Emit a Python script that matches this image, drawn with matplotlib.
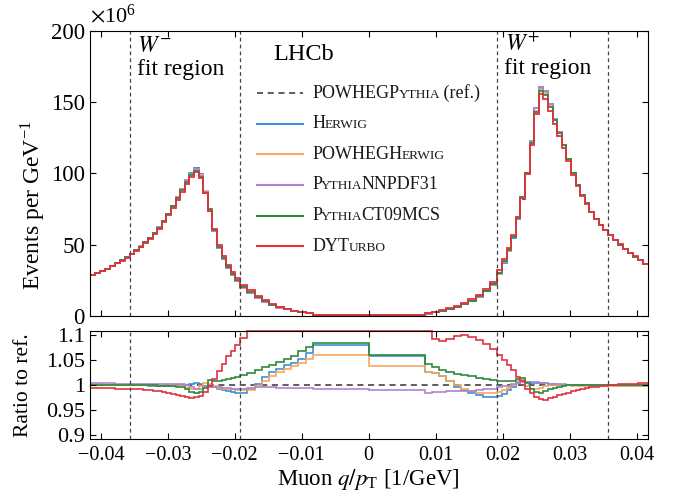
import numpy as np
import matplotlib
matplotlib.use('Agg')
import matplotlib.pyplot as plt
from matplotlib.ticker import FuncFormatter
from matplotlib.offsetbox import TextArea, DrawingArea, HPacker, VPacker, AnchoredOffsetbox
from matplotlib.lines import Line2D

plt.rcParams['font.family'] = 'serif'
plt.rcParams['font.serif'] = ['Liberation Serif', 'DejaVu Serif']
plt.rcParams['mathtext.fontset'] = 'stix'

# q/pT binning: pT > 120 GeV, 52-120 GeV, 28-52 GeV (fit region), 24-28 GeV
pos_edges = np.concatenate([[0.0],
                            np.linspace(1/120, 1/52, 11),
                            np.linspace(1/52, 1/28, 25)[1:],
                            np.linspace(1/28, 1/24, 9)[1:]])
edges = np.concatenate([-pos_edges[::-1], pos_edges[1:]])

fit_bounds = [-1/28, -1/52, 1/52, 1/28]

# POWHEG+Pythia reference, events per GeV^-1 (x 10^6)
ref_events = [
    28.5, 30, 31.5, 33, 35, 37, 39, 41,
    43.5, 46, 48.5, 51.5, 54.5, 58, 62, 66.5, 71.5, 77, 83, 89,
    95, 100, 103.5, 99, 87, 74, 60, 48, 40, 34, 29, 24.5,
    20, 16, 12.5, 9.8, 7.5, 5.8, 4.4, 3.3, 2.4, 1.7,
    0.4, 0.4,
    1.5, 2.5, 3.5, 4.8, 6.2, 8, 10.5, 13.5, 17.5, 22,
    30, 38, 46, 55, 68, 82, 100, 122, 145, 160, 157, 148,
    138, 129, 120, 110, 100, 92, 85, 79, 73, 68, 64, 60,
    57, 53, 50, 47, 44, 41.5, 39, 36.5,
]

# ratios to the reference
ratio_herwig = [
    1.000, 1.000, 1.001, 1.000, 1.000, 1.001, 1.000, 1.000,
    1.000, 1.000, 1.000, 1.000, 0.999, 0.999, 0.999, 0.999, 0.999, 0.999, 0.999, 1.000,
    1.001, 1.003, 1.004, 1.003, 0.999, 1.000, 0.997, 0.992, 0.990, 0.989, 0.986, 0.985,
    0.985, 0.993, 1.002, 1.016, 1.026, 1.033, 1.040, 1.045, 1.053, 1.064,
    1.080, 1.059,
    1.027, 1.024, 1.018, 1.008, 0.997, 0.990, 0.984, 0.980, 0.977, 0.977,
    0.978, 0.982, 0.990, 0.996, 1.004, 1.010, 1.006, 1.005, 1.005, 1.005, 1.004, 1.003,
    1.002, 1.001, 1.001, 1.000, 1.000, 1.000, 1.000, 1.000, 1.000, 1.000, 1.000, 1.000,
    1.000, 0.999, 0.999, 0.999, 0.999, 0.998, 0.998, 0.998,
]
ratio_powheg_herwig = [
    1.002, 1.002, 1.002, 1.001, 1.001, 1.001, 1.001, 1.001,
    1.001, 1.001, 1.000, 1.000, 1.000, 1.000, 1.000, 1.000, 1.000, 1.000, 0.999, 0.998,
    0.995, 0.993, 0.993, 0.998, 1.005, 1.002, 0.998, 0.994, 0.993, 0.993, 0.992, 0.990,
    0.990, 0.991, 0.998, 1.008, 1.018, 1.026, 1.033, 1.039, 1.045, 1.053,
    1.060, 1.038,
    1.027, 1.024, 1.018, 1.008, 1.000, 0.993, 0.988, 0.985, 0.985, 0.985,
    0.987, 0.990, 0.995, 1.000, 1.008, 1.010, 0.998, 0.993, 0.993, 0.995, 0.998, 1.000,
    1.000, 1.000, 1.000, 1.000, 0.999, 0.999, 0.999, 0.999, 0.999, 0.999, 0.999, 0.999,
    0.998, 0.998, 0.998, 0.998, 0.998, 0.998, 0.998, 0.998,
]
ratio_nnpdf31 = [
    1.004, 1.004, 1.004, 1.004, 1.004, 1.003, 1.003, 1.003,
    1.003, 1.003, 1.003, 1.003, 1.003, 1.003, 1.003, 1.003, 1.003, 1.003, 1.003, 1.002,
    1.001, 0.997, 0.993, 0.993, 0.997, 0.997, 0.997, 0.996, 0.995, 0.994, 0.993, 0.993,
    0.993, 0.994, 0.997, 0.997, 0.997, 0.994, 0.994, 0.994, 0.994, 0.994,
    0.992, 0.991,
    0.985, 0.987, 0.987, 0.988, 0.988, 0.988, 0.988, 0.990, 0.993, 0.993,
    0.996, 0.998, 0.999, 1.002, 1.004, 1.006, 1.006, 1.006, 1.006, 1.005, 1.004, 1.003,
    1.003, 1.002, 1.002, 1.001, 1.001, 1.001, 1.001, 1.001, 1.001, 1.001, 1.001, 1.000,
    1.000, 1.000, 1.000, 1.000, 1.000, 1.000, 1.000, 1.000,
]
ratio_ct09mcs = [
    1.000, 1.000, 1.000, 1.000, 1.000, 1.000, 1.000, 1.000,
    1.000, 1.000, 1.000, 1.000, 1.000, 1.000, 0.999, 0.999, 0.999, 0.998, 0.997, 0.996,
    0.992, 0.986, 0.985, 0.986, 0.994, 1.010, 1.009, 1.008, 1.010, 1.012, 1.015, 1.017,
    1.020, 1.024, 1.030, 1.036, 1.041, 1.046, 1.052, 1.059, 1.068, 1.077,
    1.085, 1.060,
    1.042, 1.037, 1.030, 1.027, 1.023, 1.020, 1.018, 1.015, 1.012, 1.010,
    1.008, 1.008, 1.008, 1.009, 1.012, 1.015, 1.005, 0.993, 0.986, 0.985, 0.988, 0.992,
    0.995, 0.997, 0.999, 1.000, 1.000, 1.000, 1.000, 1.000, 1.000, 1.000, 1.000, 1.000,
    1.000, 1.000, 1.000, 1.000, 1.000, 1.000, 1.000, 1.000,
]
# bins above the frame are shown on the frame edge (1.108)
ratio_dyturbo = [
    0.995, 0.995, 0.994, 0.994, 0.994, 0.993, 0.993, 0.993,
    0.993, 0.992, 0.992, 0.991, 0.990, 0.989, 0.988, 0.987, 0.985, 0.983, 0.980, 0.978,
    0.976, 0.974, 0.976, 0.979, 0.987, 0.998, 1.013, 1.028, 1.042, 1.058, 1.068, 1.080,
    1.095, 1.108, 1.108, 1.108, 1.108, 1.108, 1.108, 1.108, 1.108, 1.108,
    1.108, 1.108,
    1.108, 1.092, 1.088, 1.093, 1.098, 1.101, 1.097, 1.090, 1.082, 1.072,
    1.060, 1.050, 1.040, 1.030, 1.017, 1.008, 0.993, 0.984, 0.976, 0.972, 0.970, 0.974,
    0.977, 0.980, 0.983, 0.985, 0.988, 0.990, 0.992, 0.994, 0.996, 0.997, 0.998, 0.999,
    1.000, 1.001, 1.002, 1.002, 1.003, 1.003, 1.004, 1.004,
]

models = [ratio_herwig, ratio_powheg_herwig, ratio_nnpdf31, ratio_ct09mcs, ratio_dyturbo]
colors = ['#3f8fd2', '#f7a660', '#ad85cc', '#2e8b3e', '#e2323e']
legend_parts = [
    [('POWHEGP', False), ('YTHIA', True), (' (ref.)', False)],
    [('H', False), ('ERWIG', True)],
    [('POWHEGH', False), ('ERWIG', True)],
    [('P', False), ('YTHIA', True), ('NNPDF31', False)],
    [('P', False), ('YTHIA', True), ('CT09MCS', False)],
    [('DYT', False), ('URBO', True)],
]
xticks = [-0.04, -0.03, -0.02, -0.01, 0, 0.01, 0.02, 0.03, 0.04]

ref = np.array(ref_events)
dash = (0, (4, 3))
vdash = (0, (3, 2.5))

fig = plt.figure(figsize=(6.73, 4.99), dpi=100)
ax = fig.add_axes([0.1333, 0.3673, 0.8291, 0.5705])
axr = fig.add_axes([0.1333, 0.1196, 0.8291, 0.2164], sharex=ax)

# top panel
ax.stairs(ref, edges, baseline=None, color='#222222', lw=1.1, ls=dash)
for r, c in zip(models, colors):
    ax.stairs(ref * np.array(r), edges, baseline=None, color=c, lw=1.3)
for b in fit_bounds:
    ax.axvline(b, color='#444444', lw=0.9, ls=vdash)
ax.set_xlim(-1/24, 1/24)
ax.set_ylim(0, 200)
ax.set_yticks([0, 50, 100, 150, 200])
ax.set_ylabel(r'Events per GeV$^{\mathregular{-1}}$', fontsize=17)
ax.yaxis.set_label_coords(-0.075, 0.39)
ax.tick_params(direction='in', top=True, right=True, length=4, width=0.8,
               labelsize=16.5, labelbottom=False)
ax.text(0, 1.012, r'$\times\mathregular{10^{6}}$', transform=ax.transAxes,
        fontsize=16, ha='left', va='bottom')

ax.text(-0.0346, 0.927, r'$W^{-}$', fontsize=17, va='baseline',
        transform=ax.get_xaxis_transform())
ax.text(-0.0346, 0.845, 'fit region', fontsize=17, va='baseline',
        transform=ax.get_xaxis_transform())
ax.text(0.0203, 0.930, r'$W^{+}$', fontsize=17, va='baseline',
        transform=ax.get_xaxis_transform())
ax.text(0.0202, 0.848, 'fit region', fontsize=17, va='baseline',
        transform=ax.get_xaxis_transform())
ax.text(-0.01424, 0.898, 'LHCb', fontsize=17.5, va='baseline',
        transform=ax.get_xaxis_transform())

# legend with small capitals
rows = []
styles = [dict(color='#333333', ls=dash, lw=1.1)] + [dict(color=c, lw=1.5) for c in colors]
for parts, st in zip(legend_parts, styles):
    txt = [TextArea(t, textprops=dict(fontsize=9.6 if small else 13, color='#1a1a1a'))
           for t, small in parts]
    lab = HPacker(children=txt, align='baseline', pad=0, sep=-1.0)
    da = DrawingArea(33, 10, 0, 0)
    da.add_artist(Line2D([0, 33], [5, 5], **st))
    rows.append(HPacker(children=[da, lab], align='center', pad=0, sep=7))
box = VPacker(children=rows, align='left', pad=0, sep=9.8)
ax.add_artist(AnchoredOffsetbox(loc='upper left', child=box, pad=0, borderpad=0,
                                frameon=False, bbox_to_anchor=(0.30, 0.815),
                                bbox_transform=ax.transAxes))

# ratio panel
axr.stairs(np.ones(len(ref)), edges, baseline=None, color='#333333', lw=1.1, ls=dash)
for r, c in zip(models, colors):
    axr.stairs(r, edges, baseline=None, color=c, lw=1.2, clip_on=False)
for b in fit_bounds:
    axr.axvline(b, color='#444444', lw=0.9, ls=vdash)
axr.set_ylim(0.892, 1.108)
axr.set_yticks([0.9, 0.95, 1.0, 1.05, 1.1])
axr.yaxis.set_major_formatter(FuncFormatter(lambda v, _: '%g' % round(v, 3)))
axr.set_xticks(xticks)
axr.xaxis.set_major_formatter(FuncFormatter(
    lambda v, _: ('%g' % round(v, 3)).replace('-', '\u2212')))
axr.tick_params(direction='in', top=True, right=True, length=4, width=0.8, labelsize=16)
axr.tick_params(axis='x', labelsize=14.5, pad=5)
axr.set_ylabel('Ratio to ref.', fontsize=15.5)
axr.yaxis.set_label_coords(-0.101, 0.5)
axr.set_xlabel(r'Muon $q/p_{\mathregular{T}}$ [1/GeV]', fontsize=16.5, labelpad=1)

fig.savefig('out.png', dpi=100)
